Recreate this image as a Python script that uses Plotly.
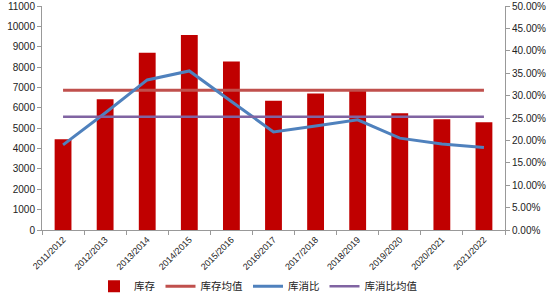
import plotly.graph_objects as go

seasons = ["2011/2012", "2012/2013", "2013/2014", "2014/2015", "2015/2016", "2016/2017",
           "2017/2018", "2018/2019", "2019/2020", "2020/2021", "2021/2022"]
stock = [4460, 6420, 8710, 9580, 8270, 6350, 6700, 6830, 5730, 5440, 5290]
stock_mean = [6860] * len(seasons)
ratio = [0.190, 0.261, 0.335, 0.355, 0.287, 0.219, 0.232, 0.246, 0.205, 0.192, 0.184]
ratio_mean = [0.253] * len(seasons)

left_ticks = list(range(0, 11001, 1000))
left_text = [str(v) for v in left_ticks]
right_ticks = [i * 0.05 for i in range(11)]
right_text = ["%.2f%%" % (v * 100) for v in right_ticks]

font = "Liberation Sans, Arial, sans-serif"

fig = go.Figure()
fig.add_trace(go.Bar(x=seasons, y=stock, name="库存", marker=dict(color="#C00000", line=dict(width=0)),
                     width=0.4))
fig.add_trace(go.Scatter(x=seasons, y=stock_mean, name="库存均值", mode="lines",
                         line=dict(color="#C0504D", width=3)))
fig.add_trace(go.Scatter(x=seasons, y=ratio, name="库消比", mode="lines", yaxis="y2",
                         line=dict(color="#4F81BD", width=3)))
fig.add_trace(go.Scatter(x=seasons, y=ratio_mean, name="库消比均值", mode="lines", yaxis="y2",
                         line=dict(color="#8064A2", width=2.5)))

fig.update_layout(
    width=550, height=295,
    margin=dict(l=42, r=45, t=6, b=65),
    plot_bgcolor="white", paper_bgcolor="white",
    font=dict(family=font, size=10, color="#222"),
    showlegend=True,
    legend=dict(orientation="h", yref="container", y=0.03, yanchor="middle",
                xref="container", x=0.47, xanchor="center",
                font=dict(size=10.5, family="Noto Sans CJK SC, sans-serif", color="#222"),
                itemwidth=30, traceorder="normal", tracegroupgap=0),
    bargap=0.6,
    xaxis=dict(type="category", tickangle=-45, tickson="boundaries", ticks="outside",
               ticklen=4, tickcolor="#999", showline=True, linecolor="#999",
               tickfont=dict(size=9), showgrid=False, automargin=False),
    yaxis=dict(range=[0, 11000], tickvals=left_ticks, ticktext=left_text, ticks="outside",
               ticklen=4, tickcolor="#999", showline=True, linecolor="#999", showgrid=False,
               zeroline=False, tickfont=dict(size=10), automargin=False),
    yaxis2=dict(range=[0, 0.5], tickvals=right_ticks, ticktext=right_text, overlaying="y",
                side="right", ticks="outside", ticklen=4, tickcolor="#999", showline=True,
                linecolor="#999", showgrid=False, zeroline=False, tickfont=dict(size=10),
                automargin=False),
)

fig.write_html("out.html")
